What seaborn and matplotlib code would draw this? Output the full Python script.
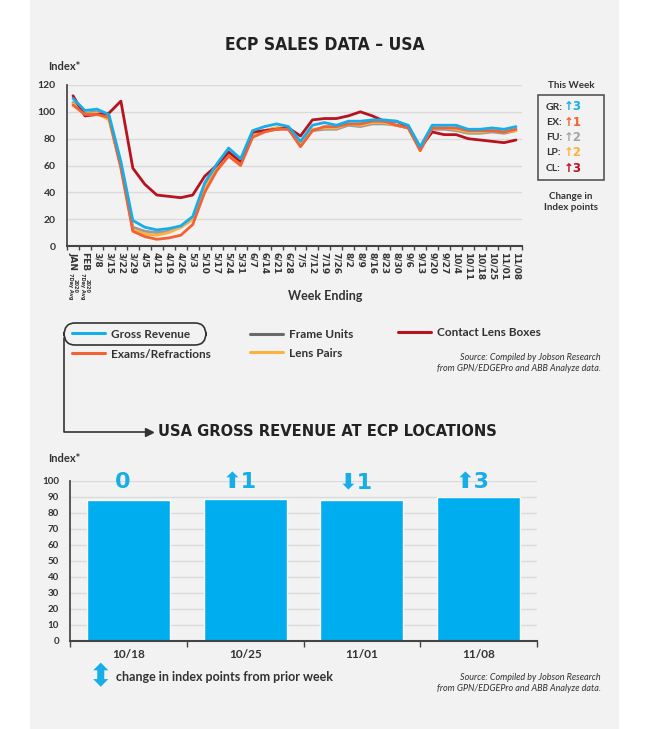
import numpy as np
import pandas as pd
import seaborn as sns
import matplotlib.pyplot as plt
from matplotlib.lines import Line2D
from matplotlib.patches import Rectangle, FancyBboxPatch

# data
weeks = ["JAN", "FEB", "3/8", "3/15", "3/22", "3/29", "4/5", "4/12",
         "4/19", "4/26", "5/3", "5/10", "5/17", "5/24", "5/31", "6/7", "6/14", "6/21", "6/28",
         "7/5", "7/12", "7/19", "7/26", "8/2", "8/9", "8/16", "8/23", "8/30", "9/6", "9/13",
         "9/20", "9/27", "10/4", "10/11", "10/18", "10/25", "11/01", "11/08"]
gross_revenue = [110, 101, 102, 98, 63, 19, 14, 12, 13, 15, 22, 47, 61, 73, 65, 86, 89, 91, 89,
                 78, 90, 92, 90, 93, 93, 94, 94, 93, 90, 74, 90, 90, 90, 87, 87, 88, 87, 89]
exams = [105, 98, 98, 96, 58, 11, 7, 5, 6, 8, 16, 40, 56, 67, 60, 81, 85, 87, 87,
         74, 86, 89, 89, 91, 91, 93, 93, 90, 88, 71, 88, 88, 88, 86, 86, 86, 85, 87]
frame_units = [107, 99, 100, 96, 60, 14, 11, 10, 11, 14, 20, 44, 58, 70, 62, 83, 86, 88, 87,
               75, 86, 87, 87, 90, 89, 91, 91, 90, 88, 72, 87, 87, 86, 84, 84, 85, 84, 86]
lens_pairs = [106, 98, 99, 94, 59, 12, 9, 8, 10, 14, 20, 43, 57, 69, 62, 82, 86, 88, 88,
              76, 87, 88, 88, 91, 90, 92, 92, 90, 88, 72, 88, 88, 87, 85, 85, 86, 85, 86]
contact_lens = [112, 97, 98, 99, 108, 58, 46, 38, 37, 36, 38, 52, 60, 70, 63, 85, 86, 87, 88,
                82, 94, 95, 95, 97, 100, 97, 93, 93, 89, 73, 85, 83, 83, 80, 79, 78, 77, 79]
avg_note = "2020\n7Day Avg"

bar_weeks = ["10/18", "10/25", "11/01", "11/08"]
bar_values = [88, 89, 88, 90]
bar_changes = ["0", "\u2b061", "\u2b071", "\u2b063"]

this_week_codes = ["GR:", "EX:", "FU:", "LP:", "CL:"]
this_week_changes = ["\u21913", "\u21911", "\u21912", "\u21912", "\u21913"]

series_names = ["Gross Revenue", "Exams/Refractions", "Frame Units", "Lens Pairs", "Contact Lens Boxes"]
colors = {"Gross Revenue": "#16ade8", "Exams/Refractions": "#f26234", "Frame Units": "#9a9a9a",
          "Lens Pairs": "#fbb040", "Contact Lens Boxes": "#b7121f"}
legend_colors = {"Gross Revenue": "#16ade8", "Exams/Refractions": "#f26234", "Frame Units": "#6a6a6a",
                 "Lens Pairs": "#fbb040", "Contact Lens Boxes": "#b7121f"}
week_colors = ["#16ade8", "#f26234", "#a5a5a5", "#fbb040", "#b7121f"]

df = pd.DataFrame({"pos": list(range(len(weeks))) * 5,
                   "series": np.repeat(series_names, len(weeks)),
                   "value": gross_revenue + exams + frame_units + lens_pairs + contact_lens})
bars = pd.DataFrame({"week": bar_weeks, "value": bar_values})

sns.set_theme(style="white")
plt.rcParams["font.family"] = ["Lato", "DejaVu Sans"]
TXT = "#333333"
BG = "#f2f2f2"

W, H = 650, 729
fig = plt.figure(figsize=(6.5, 7.29), dpi=100, facecolor="white")
fx = lambda x: x / W
fy = lambda y: 1 - y / H
fig.add_artist(Rectangle((fx(30), 0), fx(588), 1, transform=fig.transFigure, color=BG, zorder=0))

# top line chart
ax = fig.add_axes([fx(67), fy(246), fx(455), fy(85) - fy(246)])
ax.set_facecolor(BG)
draw_order = ["Frame Units", "Lens Pairs", "Contact Lens Boxes", "Exams/Refractions", "Gross Revenue"]
for name in draw_order:
    sns.lineplot(data=df[df["series"] == name], x="pos", y="value", color=colors[name],
                 linewidth=2, ax=ax, legend=False, errorbar=None)
ax.set_xlim(-0.47, len(weeks) - 0.55)
ax.set_ylim(0, 120)
ax.set_yticks(range(0, 121, 20))
ax.grid(axis="y", color="#dadada", linewidth=1)
ax.set_axisbelow(True)
for s in ["top", "right"]:
    ax.spines[s].set_visible(False)
ax.spines["left"].set_color("#444444")
ax.spines["bottom"].set_color("#444444")
ax.spines["bottom"].set_linewidth(1.5)
ax.set_xticks(range(len(weeks)))
ax.set_xticklabels(weeks, rotation=270, fontsize=6.5, fontweight="bold", color=TXT, family=["DejaVu Sans"])
ax.set_xticks(np.arange(-0.5, len(weeks), 1), minor=True)
ax.tick_params(axis="x", which="major", length=0, pad=4)
ax.tick_params(axis="x", which="minor", length=3, color="#444444", bottom=True)
ax.tick_params(axis="y", length=0, labelsize=7.5, labelcolor=TXT, pad=8)
for lbl in ax.get_yticklabels():
    lbl.set_fontweight("bold")
ax.set_xlabel("")
ax.set_ylabel("")
for i in range(2):
    ax.annotate(avg_note, xy=(i, 0), xycoords=("data", "axes fraction"), xytext=(0, -19.5),
                textcoords="offset points", rotation=270, ha="center", va="top", fontsize=3.6,
                fontweight="bold", color=TXT, family=["DejaVu Sans"], linespacing=1.0)

fig.text(fx(325), fy(45), "ECP SALES DATA \u2013 USA", ha="center", va="center", fontsize=12.5,
         fontweight="bold", color="#222222", family=["DejaVu Sans"], fontstretch="condensed")
fig.text(fx(48), fy(66), "Index*", ha="left", va="center", fontsize=8, fontweight="bold", color=TXT)
fig.text(fx(325), fy(296), "Week Ending", ha="center", va="center", fontsize=9, fontweight="bold", color=TXT)

# this week box
fig.text(fx(571), fy(86), "This Week", ha="center", va="center", fontsize=7, fontweight="bold", color=TXT)
fig.add_artist(Rectangle((fx(538), fy(180)), fx(66), fy(95) - fy(180), transform=fig.transFigure,
                         fill=False, edgecolor="#555555", linewidth=1.2))
for i, (code, chg) in enumerate(zip(this_week_codes, this_week_changes)):
    yy = fy(107 + i * 15.3)
    fig.text(fx(546), yy, code, ha="left", va="center", fontsize=7.5, fontweight="bold", color=TXT)
    fig.text(fx(564), yy, chg, ha="left", va="center", fontsize=8.5, fontweight="bold",
             color=week_colors[i], family=["DejaVu Sans"])
fig.text(fx(571), fy(202), "Change in\nIndex points", ha="center", va="center", fontsize=7,
         fontweight="bold", color=TXT, linespacing=1.2)

# legend
leg_items = [("Gross Revenue", 72, 334), ("Exams/Refractions", 72, 354), ("Frame Units", 250, 335),
             ("Lens Pairs", 250, 353), ("Contact Lens Boxes", 398, 333)]
for name, x0, y0 in leg_items:
    fig.add_artist(Line2D([fx(x0), fx(x0 + 33)], [fy(y0 - 1), fy(y0 - 1)], transform=fig.transFigure,
                          color=legend_colors[name], linewidth=2.2))
    fig.text(fx(x0 + 39), fy(y0), name, ha="left", va="center", fontsize=8.5, fontweight="bold", color=TXT)
fig.add_artist(FancyBboxPatch((fx(64), fy(345)), fx(142), fy(323) - fy(345), transform=fig.transFigure,
                              boxstyle="round,pad=0,rounding_size=0.017", fill=False,
                              edgecolor="#333333", linewidth=1.2))
fig.add_artist(Line2D([fx(64), fx(64), fx(146)], [fy(338), fy(432), fy(432)], transform=fig.transFigure,
                      color="#333333", linewidth=1.2))
fig.add_artist(Line2D([fx(149)], [fy(432)], transform=fig.transFigure, marker=">", markersize=6,
                      color="#333333"))
src = "Source: Compiled by Jobson Research\nfrom GPN/EDGEPro and ABB Analyze data."
fig.text(fx(601), fy(363), src, ha="right", va="center", fontsize=6.5, style="italic", color=TXT,
         linespacing=1.3, multialignment="right")

# bottom bar chart
fig.text(fx(158), fy(431), "USA GROSS REVENUE AT ECP LOCATIONS", ha="left", va="center", fontsize=11.8,
         fontweight="bold", color="#222222", family=["DejaVu Sans"], fontstretch="condensed")
fig.text(fx(48), fy(459), "Index*", ha="left", va="center", fontsize=8, fontweight="bold", color=TXT)

bx = fig.add_axes([fx(70), fy(641), fx(467), fy(481) - fy(641)])
bx.set_facecolor(BG)
sns.barplot(data=bars, x="week", y="value", color="#00adee", saturation=1, width=0.71, ax=bx)
bx.set_xlim(-0.5, 3.5)
bx.set_ylim(0, 100)
bx.set_yticks(range(0, 101, 10))
bx.grid(axis="y", color="#dadada", linewidth=1)
bx.set_axisbelow(True)
for s in ["top", "right"]:
    bx.spines[s].set_visible(False)
bx.spines["left"].set_color("#444444")
bx.spines["bottom"].set_color("#444444")
bx.spines["bottom"].set_linewidth(1.5)
bx.set_xticks(np.arange(-0.5, 4, 1), minor=True)
bx.tick_params(axis="x", which="major", length=0, pad=6, labelsize=8.5, labelcolor=TXT)
bx.tick_params(axis="x", which="minor", length=4, color="#444444", bottom=True)
bx.tick_params(axis="y", length=0, labelsize=7, labelcolor=TXT, pad=8)
for lbl in bx.get_xticklabels() + bx.get_yticklabels():
    lbl.set_fontweight("bold")
bx.set_xlabel("")
bx.set_ylabel("")
for i, txt in enumerate(bar_changes):
    bx.text(i - 0.05, 93, txt, ha="center", va="bottom", fontsize=16, fontweight="bold",
            color="#16ade8", family=["DejaVu Sans"])

fig.text(fx(101), fy(678), "\u2b0d", ha="center", va="center", fontsize=22, color="#16ade8",
         family=["DejaVu Sans"])
fig.text(fx(116), fy(677), "change in index points from prior week", ha="left", va="center",
         fontsize=9, fontweight="bold", color=TXT)
fig.text(fx(601), fy(683), src, ha="right", va="center", fontsize=6.5, style="italic", color=TXT,
         linespacing=1.3, multialignment="right")

fig.savefig("out.png", dpi=100, facecolor="white")
